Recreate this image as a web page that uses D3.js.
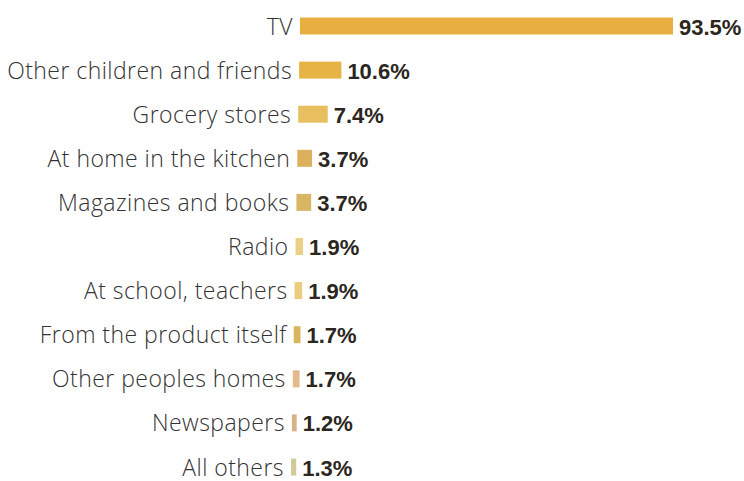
<!DOCTYPE html>
<html>
<head>
<meta charset="utf-8">
<script src="https://cdn.jsdelivr.net/npm/d3@7"></script>
<style>
  html, body { margin: 0; padding: 0; background: #ffffff; }
  svg { display: block; }
</style>
</head>
<body>
<div id="chart"></div>
<script>
const categories = [
  "TV",
  "Other children and friends",
  "Grocery stores",
  "At home in the kitchen",
  "Magazines and books",
  "Radio",
  "At school, teachers",
  "From the product itself",
  "Other peoples homes",
  "Newspapers",
  "All others"
];
const values = [93.5, 10.6, 7.4, 3.7, 3.7, 1.9, 1.9, 1.7, 1.7, 1.2, 1.3];
const valueLabels = ["93.5%", "10.6%", "7.4%", "3.7%", "3.7%", "1.9%", "1.9%", "1.7%", "1.7%", "1.2%", "1.3%"];
const barColors = ["#E9AE40", "#E6B444", "#E8BF5E", "#DDB05E", "#D9B665", "#EDD088", "#EDCB7E", "#D9B55E", "#E4B98C", "#D8B08A", "#D0CB98"];

const W = 744, H = 481;
const svg = d3.select("#chart").append("svg").attr("width", W).attr("height", H);

const data = categories.map((c, i) => ({ cat: c, v: values[i], label: valueLabels[i], i }));

// row centers
const y = d3.scalePoint().domain(categories).range([26, 467]);
// slight left drift of bar starts down the page (as in the scanned source)
const x0 = d3.scaleLinear().domain([0, categories.length - 1]).range([300, 291]);
const x = d3.scaleLinear().domain([0, 93.5]).range([0, 373]);
const color = d3.scaleOrdinal().domain(categories).range(barColors);

const barH = 17;

const row = svg.selectAll("g.row").data(data).join("g").attr("class", "row");

row.append("rect")
  .attr("x", d => x0(d.i))
  .attr("y", d => y(d.cat) - barH / 2)
  .attr("width", d => x(d.v))
  .attr("height", barH)
  .attr("fill", d => color(d.cat));

row.append("text")
  .attr("x", d => x0(d.i) - 7)
  .attr("y", d => y(d.cat) + barH / 2)
  .attr("text-anchor", "end")
  .attr("font-family", "'Open Sans', 'Liberation Sans', Arial, sans-serif")
  .attr("font-weight", 300)
  .attr("font-size", 23)
  .attr("letter-spacing", 0.45)
  .attr("fill", "#333333")
  .text(d => d.cat);

row.append("text")
  .attr("x", d => x0(d.i) + x(d.v) + 6)
  .attr("y", d => y(d.cat) + barH / 2)
  .attr("text-anchor", "start")
  .attr("font-family", "'Liberation Sans', Arial, sans-serif")
  .attr("font-weight", "bold")
  .attr("font-size", 22)
  .attr("fill", "#2b2620")
  .text(d => d.label);
</script>
</body>
</html>
